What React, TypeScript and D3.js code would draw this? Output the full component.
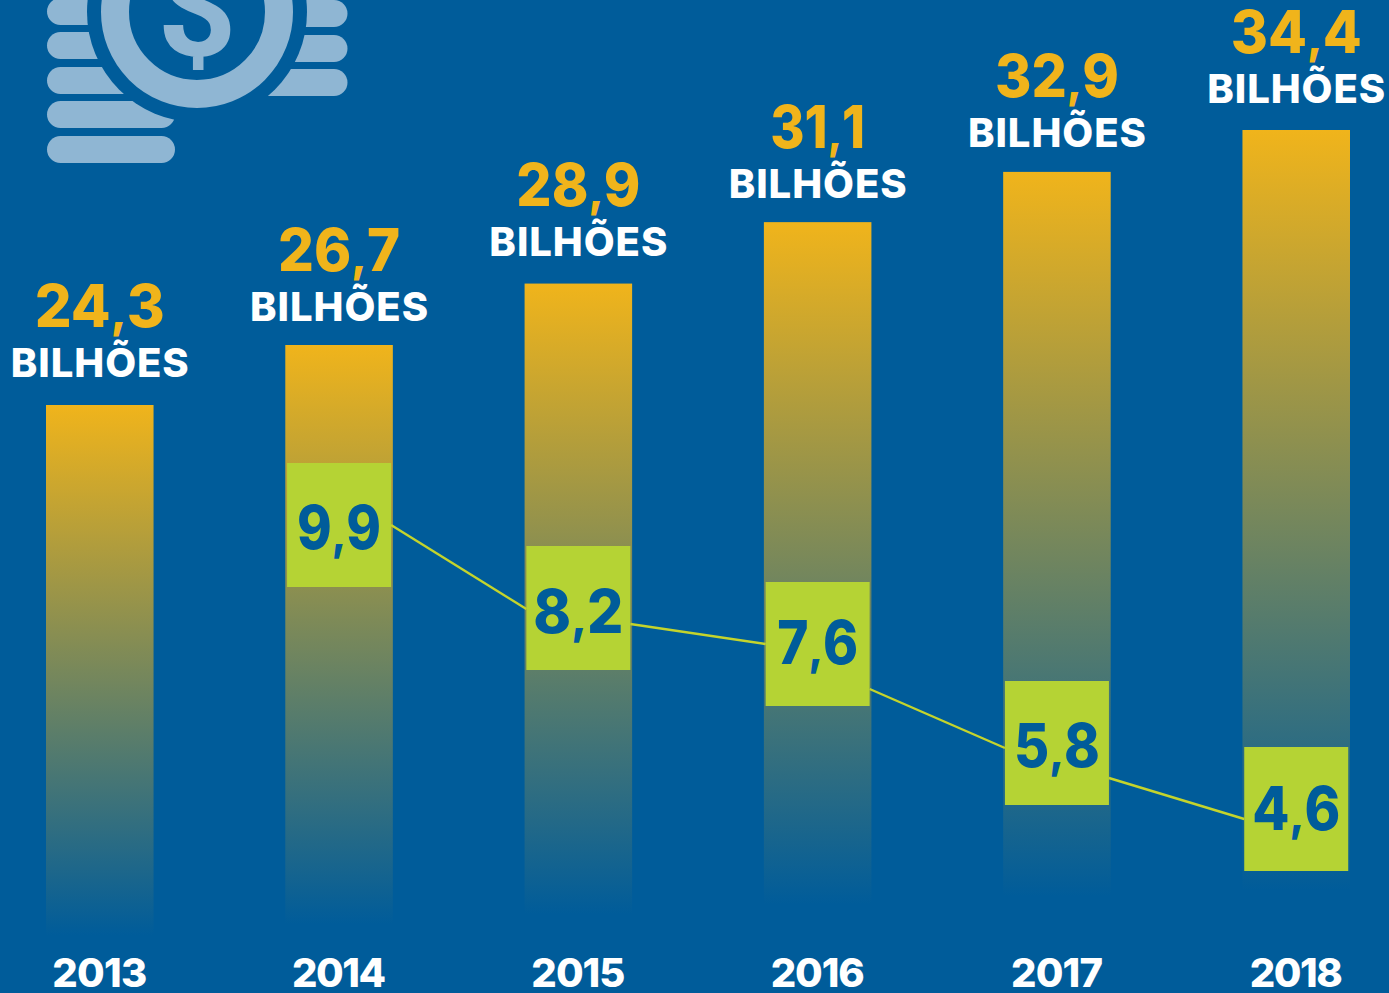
import React from "react";
import * as d3 from "d3";

const years = ["2013", "2014", "2015", "2016", "2017", "2018"];
const totals = [24.3, 26.7, 28.9, 31.1, 32.9, 34.4];
const rateYears = ["2014", "2015", "2016", "2017", "2018"];
const rates = [9.9, 8.2, 7.6, 5.8, 4.6];
const unitLabel = "BILHÕES";

const W = 1389;
const H = 993;
const font = "Inter, sans-serif";
const BG = "#005c9a";
const ICON = "#8fb6d3";
const GREEN = "#b5d334";
const GOLD = "#f0b41b";

const x = d3.scaleBand<string>().domain(years).range([46, 1350]).paddingInner(0.5506);
// the picture's axis is not quite linear, so the scales have extra stops
const yTotal = d3.scaleLinear().domain([24.3, 26.7, 34.4]).range([405, 345, 130]);
const yRate = d3.scaleLinear().domain([4.6, 7.6, 8.2, 9.9]).range([809, 644, 608, 525]);
const barBottom = d3.scaleLinear().domain([24.3, 34.4]).range([935, 890]);

const boxW = 104;
const boxH = 124;
// where each connector leaves / enters a box, relative to the box centre
const exitOffset = [0, 16, 45, 35];
const enterOffset = [1, 0, 5, 10];
// text baselines, relative to the bar top / box centre
const labelGap = [28, 24, 28, 24, 25, 27];
const rateBaseline = [24, 25, 20, 24, 21];
// Inter's digits run wider than the original face, so the widths are pinned
const totalWidths = [130, 122, 124, 95, 124, 131];
const rateWidths = [84, 90, 81, 86, 88];
const yearWidths = [95, 94, 94, 94, 92, 93];

const leftRows = [-2, 32, 67, 101, 136];
const leftEnds = [140, 140, 175, 175, 175];
const rightRows = [0, 35, 69];

// smaller comma: the original face has a much shorter tail than Inter
function Decimal({ v, size }: { v: number; size: number }) {
  const [a, b] = v.toFixed(1).split(".");
  return (
    <>
      {a}
      <tspan fontSize={size * 0.78}>,</tspan>
      {b}
    </>
  );
}

export default function App() {
  const bw = x.bandwidth();
  const cx = (y: string) => (x(y) as number) + bw / 2;

  return (
    <svg
      width={W}
      height={H}
      viewBox={`0 0 ${W} ${H}`}
      style={{ position: "absolute", left: 0, top: 0, background: BG, display: "block" }}
    >
      <defs>
        <linearGradient id="barFade" x1="0" x2="0" y1="0" y2="1">
          <stop offset="0%" stopColor={GOLD} />
          <stop offset="100%" stopColor={BG} />
        </linearGradient>
        <mask id="coinCut" maskUnits="userSpaceOnUse" x="0" y="-20" width="400" height="200">
          <rect x="0" y="-20" width="400" height="200" fill="white" />
          <circle cx={197} cy={12} r={110} fill="black" />
        </mask>
      </defs>

      <rect width={W} height={H} fill={BG} />

      {/* icon */}
      <g fill={ICON}>
        <g mask="url(#coinCut)">
          {leftRows.map((r, i) => (
            <rect key={i} x={47} y={r} width={leftEnds[i] - 47 + (i < 3 ? 60 : 0)} height={27} rx={13.5} />
          ))}
          {rightRows.map((r, i) => (
            <rect key={i} x={240} y={r} width={107.5} height={27} rx={13.5} />
          ))}
        </g>
        <circle cx={197} cy={12} r={82} fill="none" stroke={ICON} strokeWidth={28} />
        <text x={197} y={56} textAnchor="middle" fontFamily="Roboto, sans-serif" fontWeight={700} fontSize={138}>
          $
        </text>
      </g>

      {/* bars */}
      {years.map((y, i) => (
        <rect
          key={y}
          x={x(y)}
          y={yTotal(totals[i])}
          width={bw}
          height={barBottom(totals[i]) - yTotal(totals[i])}
          fill="url(#barFade)"
        />
      ))}

      {/* connectors */}
      {rateYears.slice(0, -1).map((y, i) => (
        <line
          key={y}
          x1={cx(y) + boxW / 2}
          y1={yRate(rates[i]) + exitOffset[i]}
          x2={cx(rateYears[i + 1]) - boxW / 2}
          y2={yRate(rates[i + 1]) + enterOffset[i]}
          stroke="#c4d42c"
          strokeWidth={2.4}
        />
      ))}

      {/* rate boxes */}
      {rateYears.map((y, i) => (
        <g key={y}>
          <rect x={cx(y) - boxW / 2} y={yRate(rates[i]) - boxH / 2} width={boxW} height={boxH} fill={GREEN} />
          <text
            x={cx(y)}
            y={yRate(rates[i]) + rateBaseline[i]}
            textAnchor="middle"
            fontFamily={font}
            fontWeight={800}
            fontSize={60}
            textLength={rateWidths[i]}
            lengthAdjust="spacingAndGlyphs"
            fill={BG}
          >
            <Decimal v={rates[i]} size={60} />
          </text>
        </g>
      ))}

      {/* labels over the bars */}
      {years.map((y, i) => {
        const base = yTotal(totals[i]) - labelGap[i];
        return (
          <g key={y} textAnchor="middle" fontFamily={font} fontWeight={800}>
            <text
              x={cx(y)}
              y={base - 50}
              fontSize={59}
              textLength={totalWidths[i]}
              lengthAdjust="spacingAndGlyphs"
              fill={GOLD}
            >
              <Decimal v={totals[i]} size={59} />
            </text>
            <text x={cx(y)} y={base} fontSize={40} textLength={178} fill="#ffffff">
              {unitLabel}
            </text>
            <text x={cx(y)} y={987} fontSize={40} textLength={yearWidths[i]} fill="#ffffff">
              {y}
            </text>
          </g>
        );
      })}
    </svg>
  );
}
